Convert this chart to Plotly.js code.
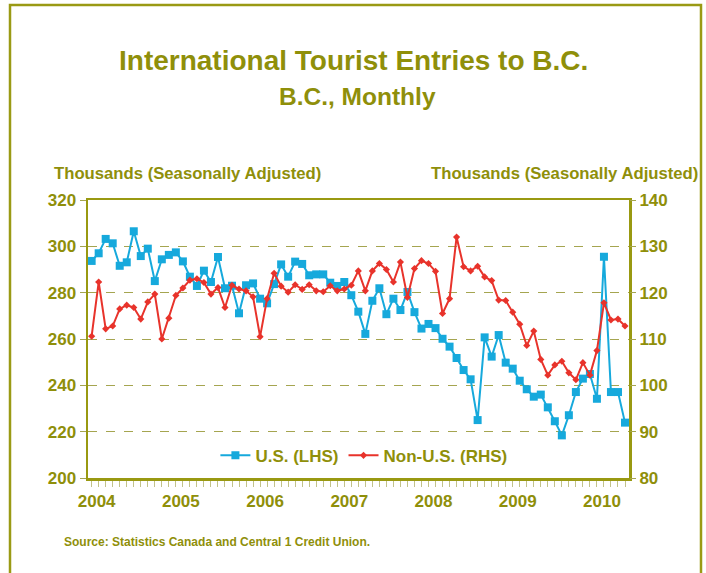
<!DOCTYPE html>
<html><head><meta charset="utf-8">
<script src="https://cdn.plot.ly/plotly-3.0.1.min.js"></script>
<style>html,body{margin:0;padding:0;background:#fff}#chart{width:706px;height:573px}</style>
</head><body><div id="chart"></div>
<script>
const startYear = 2004;
// U.S. entries, thousands (LHS), Jan 2004 - May 2010
const usLHS = [
  293.7, 297.0, 303.2, 301.3, 291.6, 293.1, 306.5, 295.8, 299.0, 285.0, 294.4, 296.3,
  297.4, 293.5, 286.9, 282.9, 289.5, 284.6, 295.4, 281.9, 283.0, 271.1, 283.2, 284.0,
  277.4, 275.4, 283.7, 292.2, 286.9, 293.4, 292.4, 287.5, 287.9, 287.9, 284.3, 282.9,
  284.6, 278.9, 271.8, 262.2, 276.5, 281.9, 270.7, 277.4, 272.5, 280.3, 271.6, 264.5,
  266.5, 264.7, 260.1, 256.7, 251.8, 246.6, 242.6, 225.0, 260.7, 252.4, 261.7, 249.8,
  247.2, 242.0, 238.3, 235.1, 236.0, 230.5, 224.5, 218.4, 227.1, 237.1, 242.9, 244.9,
  234.2, 295.5, 237.1, 237.1, 223.9
];
// Non-U.S. entries, thousands (RHS)
const nonUsRHS = [
  110.6, 122.3, 112.2, 112.8, 116.5, 117.3, 116.8, 114.3, 118.0, 119.7, 110.0, 114.5,
  119.4, 121.0, 122.7, 123.0, 122.2, 119.7, 121.1, 116.8, 121.6, 120.8, 120.4, 119.1,
  110.5, 118.7, 124.2, 121.4, 120.1, 121.7, 120.7, 121.7, 120.4, 120.2, 121.5, 120.4,
  120.8, 121.6, 124.7, 120.4, 124.7, 126.3, 125.0, 122.3, 126.6, 119.0, 125.2, 126.9,
  126.3, 124.6, 115.5, 118.7, 132.0, 125.6, 124.7, 125.7, 123.4, 122.6, 118.4, 118.3,
  115.8, 113.2, 108.6, 111.7, 105.6, 102.2, 104.4, 105.2, 102.7, 101.2, 104.9, 102.2,
  107.5, 117.8, 114.1, 114.3, 112.8
];
const leftTicks = [200, 220, 240, 260, 280, 300, 320];
const rightTicks = [80, 90, 100, 110, 120, 130, 140];

const months = [];
for (let i = 0; i < usLHS.length; i++) {
  const y = startYear + Math.floor(i / 12);
  const m = (i % 12) + 1;
  months.push(y + '-' + String(m).padStart(2, '0'));
}
const tickText = months.map(m => m.endsWith('-01') ? m.slice(0, 4) : '');

const OLIVE = '#8f8f0a';
const GRID = '#a5a550';
const FONT = '"Liberation Sans Narrow", "Arial Narrow", "Liberation Sans", Arial, sans-serif';

const traces = [
  {
    x: months, y: usLHS, name: 'U.S. (LHS)', type: 'scatter', mode: 'lines+markers',
    line: {color: '#16a9dc', width: 2},
    marker: {symbol: 'square', size: 8, color: '#16a9dc'},
    yaxis: 'y'
  },
  {
    x: months, y: nonUsRHS, name: 'Non-U.S. (RHS)', type: 'scatter', mode: 'lines+markers',
    line: {color: '#e8332b', width: 2},
    marker: {symbol: 'diamond', size: 5.5, color: '#e8332b'},
    yaxis: 'y2'
  }
];

const L = 88, R = 629, T = 200, B = 478;
const pw = R - L, ph = B - T;
const px = v => (v - L) / pw;
const py = v => (B - v) / ph;

const layout = {
  width: 706, height: 573,
  margin: {l: L, r: 706 - R, t: T, b: 573 - B, pad: 0},
  paper_bgcolor: '#ffffff', plot_bgcolor: '#ffffff',
  font: {family: FONT, color: OLIVE, weight: 'bold', size: 16},
  showlegend: true,
  legend: {
    orientation: 'h', x: 0.51, xanchor: 'center', y: 0.08, yanchor: 'middle',
    font: {family: FONT, size: 17, color: OLIVE, weight: 'bold'},
    bgcolor: 'rgba(0,0,0,0)', itemwidth: 30, traceorder: 'normal'
  },
  xaxis: {
    type: 'category', range: [-0.52, 76.57],
    tickmode: 'array', tickvals: months, ticktext: tickText,
    ticks: 'outside', ticklen: 6, tickwidth: 1, tickcolor: '#c2c28a',
    ticklabelshift: 5,
    tickfont: {family: FONT, size: 17, color: OLIVE, weight: 'bold'},
    showline: true, linecolor: '#999911', linewidth: 2.5, mirror: true,
    showgrid: false, zeroline: false, fixedrange: true
  },
  yaxis: {
    range: [200, 320], tickvals: leftTicks,
    ticks: 'outside', ticklen: 6, tickcolor: GRID,
    tickfont: {family: FONT, size: 17, color: OLIVE, weight: 'bold'},
    showline: true, linecolor: '#999911', linewidth: 2.5, mirror: true,
    showgrid: true, gridcolor: GRID, gridwidth: 1, griddash: 'dash',
    zeroline: false, fixedrange: true
  },
  yaxis2: {
    range: [80, 140], tickvals: rightTicks, overlaying: 'y', side: 'right',
    ticks: 'outside', ticklen: 6, tickcolor: GRID,
    tickfont: {family: FONT, size: 17, color: OLIVE, weight: 'bold'},
    showline: false, showgrid: false, zeroline: false, fixedrange: true
  },
  shapes: [
    {type: 'path', xref: 'paper', yref: 'paper',
     path: `M ${px(10)} ${py(590)} L ${px(10)} ${py(5)} L ${px(701)} ${py(5)} L ${px(701)} ${py(590)}`,
     line: {color: '#9a9a14', width: 2.5}}
  ],
  annotations: [
    {text: 'International Tourist Entries to B.C.', xref: 'paper', yref: 'paper',
     x: px(353), y: py(60), xanchor: 'center', yanchor: 'middle', showarrow: false,
     font: {family: FONT, size: 28, color: OLIVE, weight: 'bold'}},
    {text: 'B.C., Monthly', xref: 'paper', yref: 'paper',
     x: px(357), y: py(96), xanchor: 'center', yanchor: 'middle', showarrow: false,
     font: {family: FONT, size: 24.5, color: OLIVE, weight: 'bold'}},
    {text: 'Thousands (Seasonally Adjusted)', xref: 'paper', yref: 'paper',
     x: px(52), y: py(174), xanchor: 'left', yanchor: 'middle', showarrow: false,
     font: {family: FONT, size: 16.7, color: OLIVE, weight: 'bold'}},
    {text: 'Thousands (Seasonally Adjusted)', xref: 'paper', yref: 'paper',
     x: px(700), y: py(174), xanchor: 'right', yanchor: 'middle', showarrow: false,
     font: {family: FONT, size: 16.7, color: OLIVE, weight: 'bold'}},
    {text: 'Source: Statistics Canada and Central 1 Credit Union.', xref: 'paper', yref: 'paper',
     x: px(62), y: py(542), xanchor: 'left', yanchor: 'middle', showarrow: false,
     font: {family: FONT, size: 12, color: OLIVE, weight: 'bold'}}
  ]
};

Plotly.newPlot('chart', traces, layout, {displayModeBar: false, staticPlot: true});
</script>
</body></html>
